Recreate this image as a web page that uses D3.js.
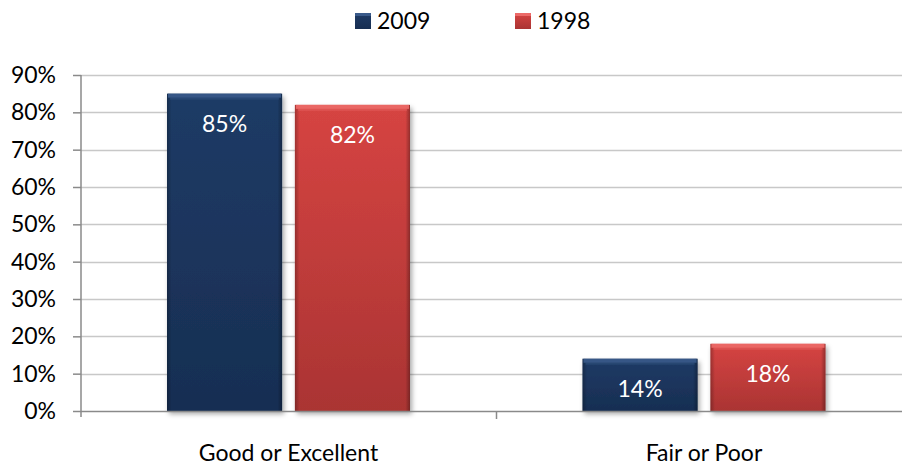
<!DOCTYPE html>
<html>
<head>
<meta charset="utf-8">
<script src="https://cdn.jsdelivr.net/npm/d3@7"></script>
<style>
  body { margin: 0; background: #fff; }
  svg { display: block; font-family: Lato, "Open Sans", sans-serif; }
</style>
</head>
<body>
<svg width="902" height="465"></svg>
<script>
// Data
const categories = ["Good or Excellent", "Fair or Poor"];
const seriesNames = ["2009", "1998"];
const values2009 = [85, 14];
const values1998 = [82, 18];
const yTicks = [0, 10, 20, 30, 40, 50, 60, 70, 80, 90];

const seriesValues = { "2009": values2009, "1998": values1998 };
const colors = {
  "2009": { top: "#3a5a8a", main: "#1f3b66", dark: "#172e52" },
  "1998": { top: "#ec6a68", main: "#d64442", dark: "#aa3433" }
};
const FONT = 23;

const svg = d3.select("svg");
const width = +svg.attr("width");

const plotLeft = 81, plotRight = 912, plotTop = 75, plotBottom = 411;

const x0 = d3.scaleBand().domain(categories).range([plotLeft, plotRight]);
// offsets of the bars inside each category band
const x1 = d3.scaleBand().domain(seriesNames).range([86, 329]).paddingInner(0.1);
const y = d3.scaleLinear().domain([0, 90]).range([plotBottom, plotTop]);

// gradients + shadow
const defs = svg.append("defs");
seriesNames.forEach(s => {
  const c = colors[s];
  const gv = defs.append("linearGradient").attr("id", "gv" + s)
    .attr("x1", 0).attr("y1", 0).attr("x2", 0).attr("y2", 1);
  gv.append("stop").attr("offset", 0).attr("stop-color", c.main);
  gv.append("stop").attr("offset", 1).attr("stop-color", c.dark);
  const gh = defs.append("linearGradient").attr("id", "gh" + s)
    .attr("x1", 0).attr("y1", 0).attr("x2", 1).attr("y2", 0);
  gh.append("stop").attr("offset", 0).attr("stop-color", "#000").attr("stop-opacity", 0.25);
  gh.append("stop").attr("offset", 0.04).attr("stop-color", "#000").attr("stop-opacity", 0);
  gh.append("stop").attr("offset", 0.96).attr("stop-color", "#000").attr("stop-opacity", 0);
  gh.append("stop").attr("offset", 1).attr("stop-color", "#000").attr("stop-opacity", 0.3);
});
const f = defs.append("filter").attr("id", "shadow")
  .attr("x", "-10%").attr("y", "-10%").attr("width", "130%").attr("height", "130%");
f.append("feDropShadow").attr("dx", 2).attr("dy", 3).attr("stdDeviation", 2.5)
  .attr("flood-color", "#000").attr("flood-opacity", 0.35);

// gridlines
svg.append("g").selectAll("line").data(yTicks.filter(d => d > 0)).join("line")
  .attr("x1", plotLeft).attr("x2", width)
  .attr("y1", d => Math.round(y(d)) + 0.5).attr("y2", d => Math.round(y(d)) + 0.5)
  .attr("stroke", "#c8c8c8").attr("stroke-width", 1.5);

// y axis
const yAxis = svg.append("g").attr("transform", `translate(${plotLeft},0)`)
  .call(d3.axisLeft(y).tickValues(yTicks).tickSize(8).tickPadding(17).tickFormat(d => d + "%"));
yAxis.select(".domain").attr("stroke", "#8a8a8a").attr("stroke-width", 1.5)
  .attr("d", `M0,${plotTop}V${plotBottom + 6}`);
yAxis.selectAll(".tick line").attr("stroke", "#8a8a8a").attr("stroke-width", 1.5);
yAxis.selectAll(".tick text").attr("font-size", FONT).attr("fill", "#000")
  .attr("font-family", "Lato, sans-serif");

// bars
const groups = svg.append("g").selectAll("g").data(categories).join("g");

groups.each(function(cat, i) {
  const g = d3.select(this);
  seriesNames.forEach(s => {
    const v = seriesValues[s][i];
    const bx = x0(cat) + x1(s);
    const bw = x1.bandwidth();
    const by = y(v), bh = y(0) - y(v);
    const c = colors[s];
    g.append("rect").attr("x", bx).attr("y", by).attr("width", bw).attr("height", bh)
      .attr("fill", `url(#gv${s})`).attr("filter", "url(#shadow)");
    g.append("rect").attr("x", bx).attr("y", by).attr("width", bw).attr("height", bh)
      .attr("fill", `url(#gh${s})`);
    // bevel highlight on top
    g.append("rect").attr("x", bx + 1).attr("y", by).attr("width", bw - 2).attr("height", 4)
      .attr("fill", c.top).attr("opacity", 0.9);
    g.append("rect").attr("x", bx + 3).attr("y", by + 4).attr("width", bw - 6).attr("height", 2)
      .attr("fill", c.top).attr("opacity", 0.4);
    g.append("text").attr("x", bx + bw / 2).attr("y", by + 38.5)
      .attr("text-anchor", "middle")
      .attr("font-size", FONT).attr("fill", "#fff").text(v + "%");
  });
});

// x axis
svg.append("line").attr("x1", plotLeft).attr("x2", width)
  .attr("y1", plotBottom + 0.5).attr("y2", plotBottom + 0.5)
  .attr("stroke", "#8a8a8a").attr("stroke-width", 1.5);
svg.append("g").selectAll("line").data(categories.slice(1)).join("line")
  .attr("x1", d => x0(d)).attr("x2", d => x0(d))
  .attr("y1", plotBottom).attr("y2", plotBottom + 8)
  .attr("stroke", "#8a8a8a").attr("stroke-width", 1.5);
svg.append("g").selectAll("text").data(categories).join("text")
  .attr("x", d => x0(d) + (86 + 329) / 2)
  .attr("y", 461).attr("text-anchor", "middle")
  .attr("font-size", FONT).attr("fill", "#000").text(d => d);

// legend
const legendX = [355, 515];
const legend = svg.append("g").selectAll("g").data(seriesNames).join("g")
  .attr("transform", (d, i) => `translate(${legendX[i]},13)`);
legend.append("rect").attr("width", 16).attr("height", 16)
  .attr("fill", d => `url(#gv${d})`);
legend.append("rect").attr("x", 0).attr("y", 0).attr("width", 16).attr("height", 3)
  .attr("fill", d => colors[d].top);
legend.append("text").attr("x", 22).attr("y", 16)
  .attr("font-size", FONT).attr("fill", "#000").text(d => d);
</script>
</body>
</html>
